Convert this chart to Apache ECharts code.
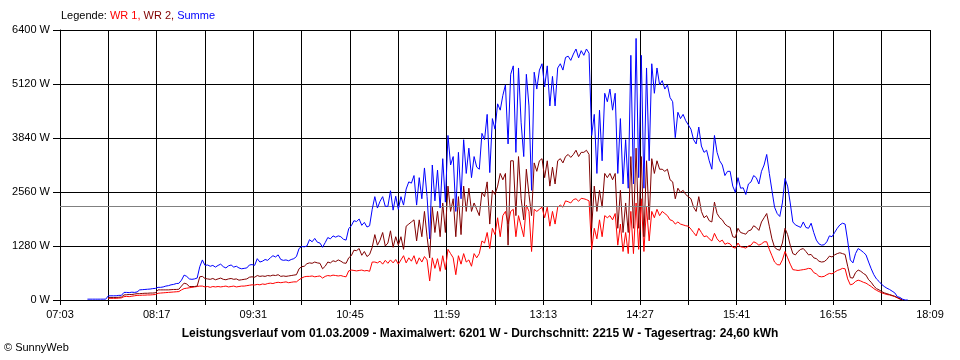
<!DOCTYPE html>
<html><head><meta charset="utf-8">
<script src="https://cdn.jsdelivr.net/npm/echarts/dist/echarts.min.js"></script>
<style>html,body{margin:0;padding:0;background:#fff}#c{width:960px;height:360px}</style>
</head><body><div id="c"></div>
<script>
// ---- data ----
const axisStart = '07:03';
const axisEnd = '18:09';
const gridStepMin = 37;
const xTickLabels = ['07:03','08:17','09:31','10:45','11:59','13:13','14:27','15:41','16:55','18:09'];
const yMax = 6400;
const yStep = 1280;
const firstSample = '07:24';
const sampleStepMin = 2;
const avgPower = 2215;
const legendNames = ['WR 1', 'WR 2', 'Summe'];
const footerText = 'Leistungsverlauf vom 01.03.2009 - Maximalwert: 6201 W - Durchschnitt: 2215 W - Tagesertrag: 24,60 kWh';

const wr1 = [null,null,null,null,null,null,null,null,40,40,
40,40,45,50,80,85,80,90,100,110,
110,115,115,120,120,125,130,160,165,170,
175,180,185,190,195,200,240,270,280,290,
300,310,320,330,330,310,320,300,320,310,
320,310,320,330,310,320,330,310,320,330,
330,340,350,360,355,370,360,380,370,390,
400,390,410,420,410,420,430,410,420,430,
430,480,520,550,560,560,570,550,560,570,
520,560,580,570,590,580,570,580,560,550,
690,710,700,690,700,710,690,700,680,900,
900,880,920,850,940,870,950,880,960,850,
950,1050,880,1000,920,1050,850,1000,900,1030,
950,450,1000,750,980,680,1050,720,1200,1100,
1000,600,1050,850,1100,900,950,800,1100,1000,
1100,1400,1350,1600,1220,1700,1550,1950,1500,2000,
2100,1800,2100,2150,1500,2000,1750,1500,2250,2100,
1150,2150,2100,2150,2200,1950,2200,1750,2100,1800,
2200,2250,2200,2350,2330,2300,2380,2400,2340,2410,
2400,2380,2350,1200,1700,1450,1900,1500,2000,1950,
2000,1900,2050,1300,1800,1150,1600,1100,2100,1100,
2300,1200,2400,1150,2200,1400,2100,1950,2150,2000,
2100,2050,2000,1900,1880,1800,1850,1800,1780,1760,
1750,1680,1600,1520,1700,1600,1500,1520,1450,1400,
1580,1450,1380,1420,1320,1350,1330,1250,1230,1350,
1260,1250,1230,1280,1300,1380,1350,1300,1330,1380,
1380,1200,1050,900,840,830,950,1150,1000,850,
720,710,700,710,720,730,750,740,650,620,
560,550,560,600,630,620,660,700,720,750,
740,500,360,380,440,470,450,420,400,360,
320,270,230,200,170,150,130,120,100,80,
50,20,0,null,null];

const wr2 = [null,null,null,null,null,null,null,null,60,60,
60,60,65,70,120,125,130,130,140,150,
150,155,160,160,165,165,170,240,240,240,
240,240,245,250,250,255,330,400,380,320,
320,320,330,550,560,510,500,490,510,480,
500,520,490,480,500,510,490,500,470,480,
490,500,540,550,540,580,560,570,560,580,
570,590,580,600,560,570,560,570,580,590,
600,740,790,800,860,880,870,900,880,870,
740,800,900,880,930,910,950,920,880,870,
1000,1050,1180,1170,1220,1060,1150,1030,1080,1250,
1550,1300,1420,1600,1280,1350,1640,1250,1500,1300,
1500,1200,1750,1800,1850,1900,1400,1900,1500,2100,
1500,1000,2200,1600,2100,1500,2300,1600,2700,2100,
2400,1500,2450,1550,2700,2100,2650,2100,2300,2150,
2000,2550,2450,2800,1800,2600,2500,2700,3000,2850,
3000,1300,3300,3300,2000,3400,2400,1900,3100,2500,
2000,3250,3050,3300,3350,2900,3300,2700,3150,2750,
3300,3350,3250,3400,3450,3380,3450,3550,3400,3500,
3500,3550,3450,1700,2700,2100,2600,2200,3000,2900,
3000,2850,3000,1700,2600,1600,2300,1600,3400,1700,
3600,1700,3400,1500,3300,1900,3350,3000,3300,3100,
3100,3050,3100,2850,2800,2400,2650,2550,2600,2500,
2450,2400,2200,2100,2450,2100,1950,2000,1880,1850,
2320,2050,1950,1900,1800,1750,1720,1500,1480,1700,
1600,1580,1560,1640,1660,1760,1720,1650,1850,1950,
2050,1750,1450,1250,1200,1180,1350,1700,1550,1300,
1100,1070,1150,1200,1220,1150,1070,1080,1000,980,
920,900,910,960,1040,1020,1070,1100,1120,1100,
1080,800,530,520,650,710,680,630,590,480,
420,330,270,240,200,170,150,130,110,90,
60,30,0,null,null];

const summe = [20,20,20,20,20,20,20,20,100,100,
100,100,110,110,180,180,175,185,180,190,
240,245,250,255,260,270,275,300,300,310,
330,340,360,370,390,395,470,590,560,500,
490,500,520,790,950,820,830,800,820,780,
820,850,790,760,810,830,780,800,760,740,
750,760,830,840,820,980,900,920,960,940,
1000,1050,1020,1070,960,940,950,930,960,980,
1030,1220,1270,1260,1280,1430,1380,1460,1370,1350,
1250,1360,1480,1450,1520,1490,1520,1500,1440,1420,
1690,1760,1880,1860,1920,1770,1840,1730,1760,2150,
2450,2180,2340,2450,2220,2220,2590,2130,2460,2150,
2450,2250,2630,2800,2770,2950,2250,2900,2400,3130,
2450,1450,3200,2350,3080,2180,3350,2320,3900,3200,
3400,2100,3500,2400,3800,3000,3600,2900,3400,3150,
3100,3950,3800,4400,3020,4300,4050,4650,4500,4850,
5100,3700,5350,5550,3500,5500,4200,3400,5350,4600,
2600,5400,5000,5450,5600,5050,5550,4600,5300,4600,
5500,5600,5450,5750,5780,5680,5830,5950,5740,5910,
5800,5950,5850,3900,4400,3000,4500,3300,4900,4700,
5000,4500,4900,3000,4300,2750,3800,2650,5800,2750,
6200,2900,5800,2650,5500,3300,5600,4900,5500,5100,
5200,5000,5100,4800,4700,3850,4450,4300,4400,4250,
4150,4050,3800,3700,4100,3650,3500,3550,3300,3100,
3900,3500,3300,3200,2950,3050,3050,2700,2550,2900,
2650,2660,2500,2750,2800,2950,2900,2750,3050,3200,
3450,3000,2600,2200,2050,1980,2300,2880,2700,2300,
1850,1780,1750,1720,1850,1720,1700,1820,1600,1420,
1330,1300,1310,1380,1520,1500,1600,1700,1780,1820,
1800,1400,950,880,1100,1220,1180,1130,1070,900,
740,600,500,440,370,320,280,250,210,170,
80,60,20,0,0];

// ---- chart ----
const toMin = s => { const p = s.split(':'); return (+p[0]) * 60 + (+p[1]); };
const x0 = toMin(axisStart);
const xSpan = toMin(axisEnd) - x0;
const off0 = toMin(firstSample) - x0;
const pairs = arr => arr.map((v, i) => [off0 + i * sampleStepMin, v]);
const FONT = 'Liberation Sans, Arial, sans-serif';

const chart = echarts.init(document.getElementById('c'), null, {renderer: 'canvas'});
chart.setOption({
  animation: false,
  backgroundColor: '#ffffff',
  textStyle: {fontFamily: FONT},
  title: [
    {
      left: 61, top: 10, padding: 0,
      text: '{k|Legende: }{r|' + legendNames[0] + ', }{d|' + legendNames[1] + ', }{b|' + legendNames[2] + '}',
      textStyle: {
        fontSize: 11, fontWeight: 'normal', fontFamily: FONT,
        rich: {
          k: {color: '#000000', fontSize: 11, fontFamily: FONT},
          r: {color: '#ff0000', fontSize: 11, fontFamily: FONT},
          d: {color: '#800000', fontSize: 11, fontFamily: FONT},
          b: {color: '#0000ff', fontSize: 11, fontFamily: FONT}
        }
      }
    },
    {
      left: 'center', top: 328, padding: 0,
      text: footerText,
      textStyle: {fontSize: 12, fontWeight: 'bold', color: '#000', fontFamily: FONT}
    },
    {
      left: 4, top: 342, padding: 0,
      text: '\u00A9 SunnyWeb',
      textStyle: {fontSize: 11, fontWeight: 'normal', color: '#000', fontFamily: FONT}
    }
  ],
  grid: {left: 60, right: 30, top: 30, bottom: 60, containLabel: false, show: false},
  xAxis: {
    type: 'value', min: 0, max: xSpan, interval: gridStepMin,
    axisLine: {show: true, lineStyle: {color: '#000', width: 1}},
    axisTick: {show: true, length: 5, lineStyle: {color: '#000'}},
    splitLine: {show: true, lineStyle: {color: '#000', width: 1}},
    axisLabel: {
      show: true, margin: 9, color: '#000', fontSize: 11, fontFamily: FONT,
      showMinLabel: true, showMaxLabel: true,
      formatter: v => {
        const k = Math.round(v / gridStepMin);
        return k % 2 === 0 ? (xTickLabels[k / 2] || '') : '';
      }
    }
  },
  yAxis: {
    type: 'value', min: 0, max: yMax, interval: yStep,
    axisLine: {show: true, lineStyle: {color: '#000', width: 1}},
    axisTick: {show: true, length: 7, lineStyle: {color: '#000'}},
    splitLine: {show: true, lineStyle: {color: '#000', width: 1}},
    axisLabel: {show: true, margin: 10, color: '#000', fontSize: 11, fontFamily: FONT, formatter: v => v + ' W'}
  },
  series: [
    {
      name: legendNames[0], type: 'line', data: pairs(wr1), showSymbol: false,
      color: '#ff0000', lineStyle: {width: 1, color: '#ff0000'}, connectNulls: false,
      markLine: {
        silent: true, symbol: 'none', label: {show: false},
        lineStyle: {color: '#808080', type: 'solid', width: 1},
        data: [{yAxis: avgPower}]
      },
      z: 3
    },
    {
      name: legendNames[1], type: 'line', data: pairs(wr2), showSymbol: false,
      color: '#800000', lineStyle: {width: 1, color: '#800000'}, z: 4
    },
    {
      name: legendNames[2], type: 'line', data: pairs(summe), showSymbol: false,
      color: '#0000ff', lineStyle: {width: 1, color: '#0000ff'}, z: 5
    }
  ]
});
</script>
</body></html>
